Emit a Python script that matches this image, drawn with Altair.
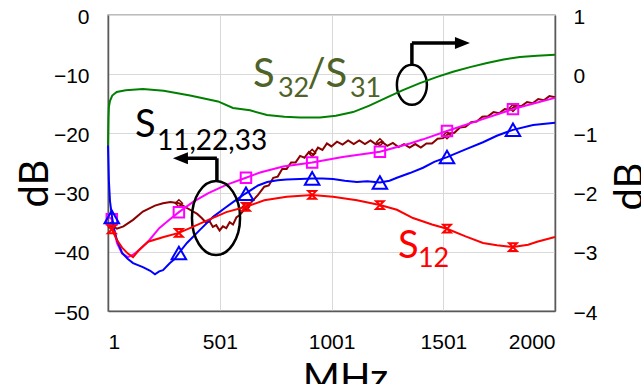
import altair as alt
import pandas as pd

# ---------------- data ----------------
x_ticks = [1, 501, 1001, 1501, 2000]
left_ticks = [-50, -40, -30, -20, -10, 0]
right_ticks = [-4, -3, -2, -1, 0, 1]

# S32/S31 (green, right axis)
green_x = [1, 3, 5, 10, 20, 40, 80, 157, 250, 368, 493, 560, 636, 712, 790, 860, 949,
           1020, 1097, 1170, 1249, 1320, 1396, 1470, 1544, 1620, 1696, 1770, 1843, 1920, 2000]
green_y = [-1.2, -0.75, -0.55, -0.45, -0.36, -0.30, -0.27, -0.25, -0.28, -0.36, -0.46, -0.57,
           -0.61, -0.69, -0.72, -0.73, -0.73, -0.70, -0.64, -0.53, -0.39, -0.27, -0.15, -0.05,
           0.04, 0.12, 0.19, 0.25, 0.29, 0.31, 0.33]

# S12 (red, right axis)
red_x = [1, 5, 18, 41, 64, 90, 113, 140, 180, 250, 318, 380, 450, 530, 618, 700, 800, 914,
         1007, 1114, 1217, 1293, 1365, 1450, 1517, 1600, 1678, 1740, 1812, 1880, 1920, 2000]
red_y = [-2.58, -2.56, -2.62, -2.80, -2.93, -3.03, -3.09, -2.97, -2.83, -2.75, -2.68, -2.58,
         -2.46, -2.33, -2.24, -2.13, -2.07, -2.04, -2.07, -2.13, -2.21, -2.29, -2.43, -2.54,
         -2.61, -2.74, -2.85, -2.89, -2.92, -2.88, -2.83, -2.75]

# dark red (left axis)
dkred_x = [1, 10, 18, 41, 70, 113, 157, 211, 247, 280, 318, 354, 400, 420, 440, 455, 470, 485,
           500, 515, 530, 545, 560, 575, 590, 610, 623, 650, 672, 700, 720, 740, 760, 780, 800,
           820, 840, 860, 880, 900, 920, 940, 960, 980,
           1000, 1025, 1050, 1075, 1100, 1125, 1150, 1175, 1200, 1225, 1250, 1275, 1300, 1325,
           1350, 1375, 1400, 1425, 1450, 1475, 1500, 1525, 1550, 1575, 1600, 1625, 1650, 1675,
           1700, 1725, 1750, 1775, 1800, 1825, 1850, 1875, 1900, 1925, 1950, 1975, 2000]
dkred_y = [-35.8, -35.9, -35.5, -36.1, -35.7, -34.6, -33.2, -32.2, -31.8, -31.6, -31.8, -32.6,
           -33.6, -34.3, -35.1, -34.8, -35.8, -35.5, -36.4, -35.7, -36.0, -35.0, -35.4, -34.2,
           -33.8, -32.9, -32.4, -31.3, -30.4, -29.0, -28.8, -27.5, -27.3, -26.0, -26.0, -24.9,
           -24.9, -23.8, -24.1, -23.1, -23.6, -22.4, -22.8, -21.7,
           -22.2, -21.4, -21.9, -21.2, -21.8, -21.2, -21.8, -21.2, -21.9, -21.4, -22.1, -21.6,
           -22.3, -21.8, -22.4, -21.8, -22.4, -21.7, -21.7, -20.9, -20.8, -20.0, -19.9, -19.0,
           -18.9, -18.1, -18.0, -17.2, -17.1, -16.4, -16.6, -15.9, -16.0, -15.3, -15.4, -14.7,
           -14.9, -14.2, -14.4, -13.7, -13.9]

# magenta (left axis)
mag_x = [1, 18, 30, 41, 64, 90, 113, 140, 180, 230, 278, 318, 380, 450, 530, 618, 681, 784,
         914, 1050, 1217, 1351, 1410, 1517, 1660, 1812, 1900, 2000]
mag_y = [-34.0, -34.5, -36.5, -38.5, -40.3, -40.9, -40.5, -39.7, -38.3, -36.0, -34.5, -33.3,
         -31.6, -30.1, -28.7, -27.5, -26.6, -25.6, -24.9, -24.0, -23.1, -21.7, -21.0, -19.6,
         -17.8, -15.9, -15.0, -14.0]

# blue (left axis)
blue_x = [1, 5, 10, 19, 30, 41, 64, 90, 113, 157, 190, 211, 230, 247, 278, 300, 318, 354, 412,
          471, 524, 560, 614, 672, 713, 760, 800, 860, 914, 960, 1007, 1060, 1114, 1160, 1217,
          1260, 1293, 1351, 1410, 1460, 1517, 1600, 1678, 1740, 1812, 1902, 2000]
blue_y = [-22.0, -28.0, -31.5, -34.1, -36.5, -38.0, -40.2, -41.2, -41.9, -42.6, -43.2, -43.8,
          -43.3, -43.1, -41.9, -41.2, -40.2, -38.5, -36.3, -34.1, -32.6, -31.6, -30.2, -28.8,
          -28.2, -27.9, -27.8, -27.7, -27.6, -27.6, -27.7, -28.0, -28.2, -28.1, -28.3, -28.0,
          -27.5, -26.7, -25.8, -24.8, -24.0, -22.7, -21.5, -20.4, -19.4, -18.6, -18.2]

# marker positions
marker_x = [18, 318, 618, 914, 1217, 1517, 1812]
red_mk_y = [-2.62, -2.68, -2.24, -2.04, -2.21, -2.61, -2.92]
dkred_mk_y = [-35.5, -31.8, -32.4, -23.3, -21.5, -20.3, -15.7]
mag_mk_y = [-34.5, -33.3, -27.5, -24.9, -23.1, -19.6, -15.9]
blue_mk_y = [-34.1, -40.2, -30.2, -27.6, -28.3, -24.0, -19.4]

# annotations (left-axis units)
ann_text = ["S", "32", "/S", "31", "S", "11,22,33", "S", "12"]
ann_x = [649, 761, 893, 1083, 122, 220, 1298, 1387]
ann_y = [-12.2, -13.9, -12.2, -13.9, -20.6, -22.8, -41.0, -42.6]
ann_size = [40, 27, 40, 27, 38, 28, 38, 27]
ann_color = ["#4F6228"] * 4 + ["#000000"] * 2 + ["#FF0000"] * 2

# ellipses and arrows (left-axis units)
ell_x = [484, 1360]
ell_y = [-34.3, -11.8]
arrow_x = [488, 488, 1360, 1360]
arrow_x2 = [488, 340, 1360, 1586]
arrow_y = [-28.1, -24.2, -8.4, -4.75]
arrow_y2 = [-24.2, -24.2, -4.75, -4.75]
head_x = [325, 1586]
head_y = [-24.2, -4.75]

# ---------------- encodings ----------------
X = alt.X("x:Q", scale=alt.Scale(domain=[1, 2000], nice=False, zero=False),
          axis=alt.Axis(values=x_ticks, format="d", title="MHz", labelPadding=20, grid=True,
                        titleX=237, titleY=80, titleAlign="center",
                        titleBaseline="alphabetic"))
YL = alt.Y("y:Q", scale=alt.Scale(domain=[-50, 0], nice=False, zero=False),
           axis=alt.Axis(orient="left", values=left_ticks, title="dB", grid=True,
                         labelPadding=19, labelOffset=2, titleAngle=270, titleX=-73,
                         titleY=168, titleAlign="center", titleBaseline="middle"))
YR = alt.Y("y:Q", scale=alt.Scale(domain=[-4, 1], nice=False, zero=False),
           axis=alt.Axis(orient="right", values=right_ticks, title="dB", grid=False,
                         labelPadding=18, labelOffset=2, titleAngle=270, titleX=75,
                         titleY=171, titleAlign="center", titleBaseline="middle"))


def df(xs, ys):
    return pd.DataFrame({"x": xs, "y": ys})


def line(xs, ys, color, y):
    return alt.Chart(df(xs, ys)).mark_line(color=color, strokeWidth=2).encode(
        x=X, y=y, order="x:Q")


def marks(ys, y, color, shape, size, sw):
    return alt.Chart(df(marker_x, ys)).mark_point(
        shape=shape, size=size, color=color, filled=False, strokeWidth=sw, opacity=1
    ).encode(x=X, y=y)


HOURGLASS = "M-1,-1L1,-1L-1,1L1,1Z"
ELL1 = "M-0.65,0A0.65,1 0 1,1 0.65,0A0.65,1 0 1,1 -0.65,0Z"
ELL2 = "M-0.75,0A0.75,1 0 1,1 0.75,0A0.75,1 0 1,1 -0.75,0Z"
HEAD_L = "M-1,0L1,-0.8L1,0.8Z"
HEAD_R = "M1,0L-1,-0.8L-1,0.8Z"

DKRED = "#8B0000"
MAG = "#FF00FF"
BLUE = "#0000FF"
RED = "#FF0000"
GREEN = "#008000"

left_layers = [
    line(dkred_x, dkred_y, DKRED, YL),
    marks(dkred_mk_y, YL, DKRED, "diamond", 50, 1.5),
    line(mag_x, mag_y, MAG, YL),
    marks(mag_mk_y, YL, MAG, "square", 110, 2),
    line(blue_x, blue_y, BLUE, YL),
    marks(blue_mk_y, YL, BLUE, "triangle-up", 210, 2),
]

ann_df = pd.DataFrame({"x": ann_x, "y": ann_y, "t": ann_text, "s": ann_size, "c": ann_color})
texts = alt.Chart(ann_df).mark_text(align="left", baseline="alphabetic", font="Lato").encode(
    x=X, y=YL, text="t:N",
    size=alt.Size("s:Q", scale=None, legend=None),
    color=alt.Color("c:N", scale=None, legend=None))

ell1 = alt.Chart(df(ell_x[:1], ell_y[:1])).mark_point(
    shape=ELL1, size=74 * 74, filled=False, color="black", strokeWidth=2.5, opacity=1
).encode(x=X, y=YL)
ell2 = alt.Chart(df(ell_x[1:], ell_y[1:])).mark_point(
    shape=ELL2, size=40 * 40, filled=False, color="black", strokeWidth=2.5, opacity=1
).encode(x=X, y=YL)

arrows = alt.Chart(pd.DataFrame({"x": arrow_x, "x2": arrow_x2, "y": arrow_y, "y2": arrow_y2})
                   ).mark_rule(color="black", strokeWidth=3.5).encode(
    x=X, x2="x2:Q", y=YL, y2="y2:Q")
head1 = alt.Chart(df(head_x[:1], head_y[:1])).mark_point(
    shape=HEAD_L, size=225, filled=True, color="black", opacity=1).encode(x=X, y=YL)
head2 = alt.Chart(df(head_x[1:], head_y[1:])).mark_point(
    shape=HEAD_R, size=225, filled=True, color="black", opacity=1).encode(x=X, y=YL)

left_layers += [texts, ell1, ell2, arrows, head1, head2]

right_layers = [
    line(red_x, red_y, RED, YR),
    alt.Chart(df(marker_x, red_mk_y)).mark_point(
        shape=HOURGLASS, size=60, color=RED, filled=False, strokeWidth=2, opacity=1
    ).encode(x=X, y=YR),
    line(green_x, green_y, GREEN, YR),
]

chart = alt.layer(alt.layer(*left_layers), alt.layer(*right_layers)).resolve_scale(
    y="independent"
).properties(
    width=447, height=296,
    autosize=alt.AutoSizeParams(type="none"),
    padding={"left": 108, "top": 15, "right": 86, "bottom": 73},
).configure_axis(
    labelFont="Liberation Sans", labelFontSize=21, labelColor="black",
    titleFont="Lato", titleFontSize=40, titleFontWeight="normal", titleColor="black",
    gridColor="#d9d9d9", gridWidth=1, domainColor="#595959", domainWidth=1.5,
    ticks=False,
).configure_view(stroke="#a6a6a6", strokeWidth=1.5)

chart.save("out.html", embed_options={"renderer": "svg", "actions": False})
